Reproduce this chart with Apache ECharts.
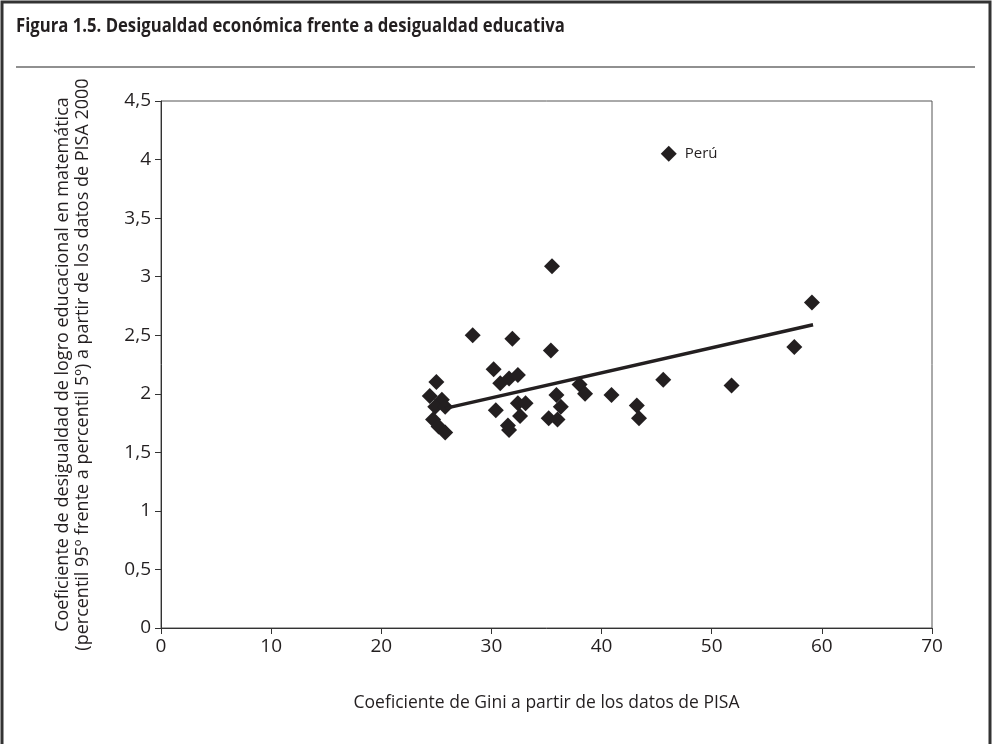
<!DOCTYPE html>
<html><head><meta charset="utf-8">
<script src="https://cdn.jsdelivr.net/npm/echarts@6/dist/echarts.min.js"></script>
<style>html,body{margin:0;padding:0;background:#fff}#c{width:993px;height:744px}</style>
</head><body><div id="c"></div>
<script>
const titleText = 'Figura 1.5. Desigualdad económica frente a desigualdad educativa';
const xAxisName = 'Coeficiente de Gini a partir de los datos de PISA';
const yAxisName = 'Coeficiente de desigualdad de logro educacional en matemática\n(percentil 95º frente a percentil 5º) a partir de los datos de PISA 2000';
const giniValues = [24.4,25.0,25.5,24.9,25.8,24.7,25.2,25.8,28.3,31.9,30.2,30.4,30.8,31.6,32.4,31.5,31.6,32.4,33.1,32.6,35.5,35.4,35.2,36.0,36.3,35.9,38.0,38.5,40.9,43.2,43.4,45.6,51.8,57.5,59.1];
const ratioValues = [1.98,2.10,1.95,1.89,1.89,1.78,1.72,1.67,2.50,2.47,2.21,1.86,2.09,2.13,2.16,1.73,1.69,1.92,1.92,1.81,3.09,2.37,1.79,1.78,1.89,1.99,2.08,2.00,1.99,1.90,1.79,2.12,2.07,2.40,2.78];
const peruName = 'Perú';
const peruPoint = [46.1, 4.05];
const trendX = [25.8, 59.2];
const trendY = [1.875, 2.59];

const ink = '#231f20';
const chart = echarts.init(document.getElementById('c'));
chart.setOption({
  animation:false,
  textStyle:{fontFamily:'Open Sans'},
  grid:{left:161, top:101, right:61, bottom:116, show:true, borderColor:'#555', borderWidth:1},
  xAxis:{type:'value', min:0, max:70, interval:10,
    name:xAxisName, nameLocation:'middle', nameGap:66,
    nameTextStyle:{fontSize:17.5, color:ink, fontFamily:'Open Sans'},
    axisLine:{show:true, lineStyle:{color:'#333', width:1}},
    axisTick:{show:true, length:6, lineStyle:{color:'#333'}},
    axisLabel:{fontSize:19, color:ink, margin:9},
    splitLine:{show:false}},
  yAxis:{type:'value', min:0, max:4.5, interval:0.5,
    name:yAxisName, nameLocation:'middle', nameGap:68, nameRotate:90,
    nameTextStyle:{fontSize:18, color:ink, lineHeight:20, fontFamily:'Open Sans'},
    axisLine:{show:true, lineStyle:{color:'#333', width:1}},
    axisTick:{show:true, length:6, lineStyle:{color:'#333'}},
    axisLabel:{fontSize:19, color:ink, margin:10, formatter:v=>String(v).replace('.',',')},
    splitLine:{show:false}},
  series:[
    {type:'scatter', symbol:'diamond', symbolSize:16, itemStyle:{color:ink, opacity:1},
      data:giniValues.map((g,i)=>[g, ratioValues[i]])},
    {type:'scatter', symbol:'diamond', symbolSize:16, itemStyle:{color:ink, opacity:1},
      data:[{value:peruPoint, name:peruName}],
      label:{show:true, position:'right', distance:8, formatter:'{b}', fontSize:15, color:ink}},
    {type:'line', data:trendX.map((x,i)=>[x, trendY[i]]), symbol:'none',
      lineStyle:{color:ink, width:3.5}}
  ],
  graphic:[
    {type:'polyline', shape:{points:[[2,760],[2,2],[990,2],[990,760]]}, style:{stroke:'#333', lineWidth:3, fill:null}},
    {type:'text', x:16, y:16, scaleX:0.835, style:{text:titleText, font:'bold 20px "Open Sans", sans-serif', fill:ink}},
    {type:'line', shape:{x1:16, y1:67, x2:975, y2:67}, style:{stroke:'#222', lineWidth:1.2}}
  ]
});
</script></body></html>
